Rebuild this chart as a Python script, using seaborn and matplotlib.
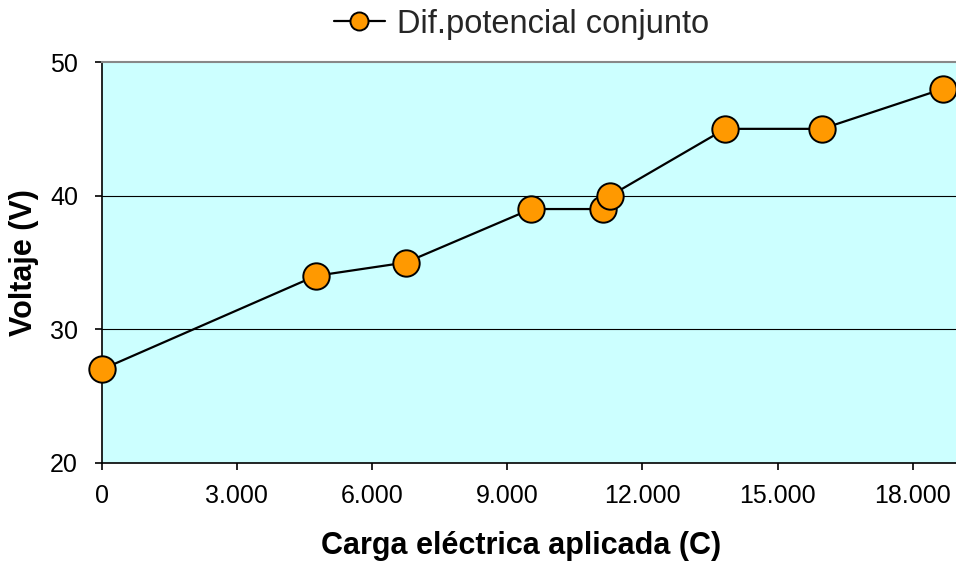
import matplotlib
matplotlib.use("Agg")
import matplotlib.pyplot as plt
from matplotlib.ticker import FuncFormatter, FixedLocator
import seaborn as sns
import pandas as pd

# Datos: carga aplicada (C) y diferencia de potencial (V)
carga = [0, 4750, 6750, 9530, 11130, 11290, 13840, 15990, 18680]
voltaje = [27, 34, 35, 39, 39, 40, 45, 45, 48]
serie = "Dif.potencial conjunto"
x_ticks = [0, 3000, 6000, 9000, 12000, 15000, 18000]
y_ticks = [20, 30, 40, 50]

df = pd.DataFrame({"carga": carga, "voltaje": voltaje, "serie": serie})

sns.set_theme(style="white")
plt.rcParams["font.family"] = ["Liberation Sans", "DejaVu Sans"]

fig = plt.figure(figsize=(9.56, 5.69), dpi=100)
ax = fig.add_axes([0.1064, 0.1863, 0.8954, 0.7047])
ax.set_facecolor("#CCFFFF")

sns.lineplot(data=df, x="carga", y="voltaje", hue="serie", palette=["black"],
             marker="o", markersize=19, markerfacecolor="#FF9900",
             markeredgecolor="black", markeredgewidth=1.4, linewidth=1.6,
             ax=ax, zorder=3, clip_on=False)

ax.set_xlim(0, 19000)
ax.set_ylim(20, 50)
ax.xaxis.set_major_locator(FixedLocator(x_ticks))
ax.yaxis.set_major_locator(FixedLocator(y_ticks))
ax.xaxis.set_major_formatter(FuncFormatter(lambda v, p: f"{int(v):,}".replace(",", ".")))

for yv in [30, 40]:
    ax.axhline(yv, color="black", linewidth=0.8, zorder=1)

for s in ["left", "bottom"]:
    ax.spines[s].set_color("black")
    ax.spines[s].set_linewidth(1.2)
ax.spines["top"].set_color("#888888")
ax.spines["top"].set_linewidth(1.5)
ax.spines["right"].set_visible(False)

ax.tick_params(axis="both", which="major", direction="out", length=5, width=1.2,
               color="black", labelsize=18, labelcolor="black",
               bottom=True, left=True)
ax.tick_params(axis="x", pad=10)
ax.tick_params(axis="y", pad=12)

ax.set_xlabel("Carga eléctrica aplicada (C)", fontsize=22, fontweight="bold",
              color="black")
ax.set_ylabel("Voltaje (V)", fontsize=22, fontweight="bold", color="black")
ax.xaxis.set_label_coords(0.5 - (0.5 * 856 - (521 - 101.7)) / 856, -0.207)
ax.xaxis.label.set_va("center")
ax.yaxis.set_label_coords(-0.091, 0.5)
ax.yaxis.label.set_va("center")

leg = ax.legend(loc="center", bbox_to_anchor=(0.5455, 1 - 24 / 569),
                bbox_transform=fig.transFigure, frameon=False,
                fontsize=23.5, handlelength=1.56, handletextpad=0.37,
                borderpad=0.0)
for h in leg.legend_handles:
    h.set_markersize(13)
    h.set_markerfacecolor("#FF9900")
    h.set_markeredgecolor("black")
    h.set_linewidth(1.6)

fig.savefig("out.png", dpi=100)
